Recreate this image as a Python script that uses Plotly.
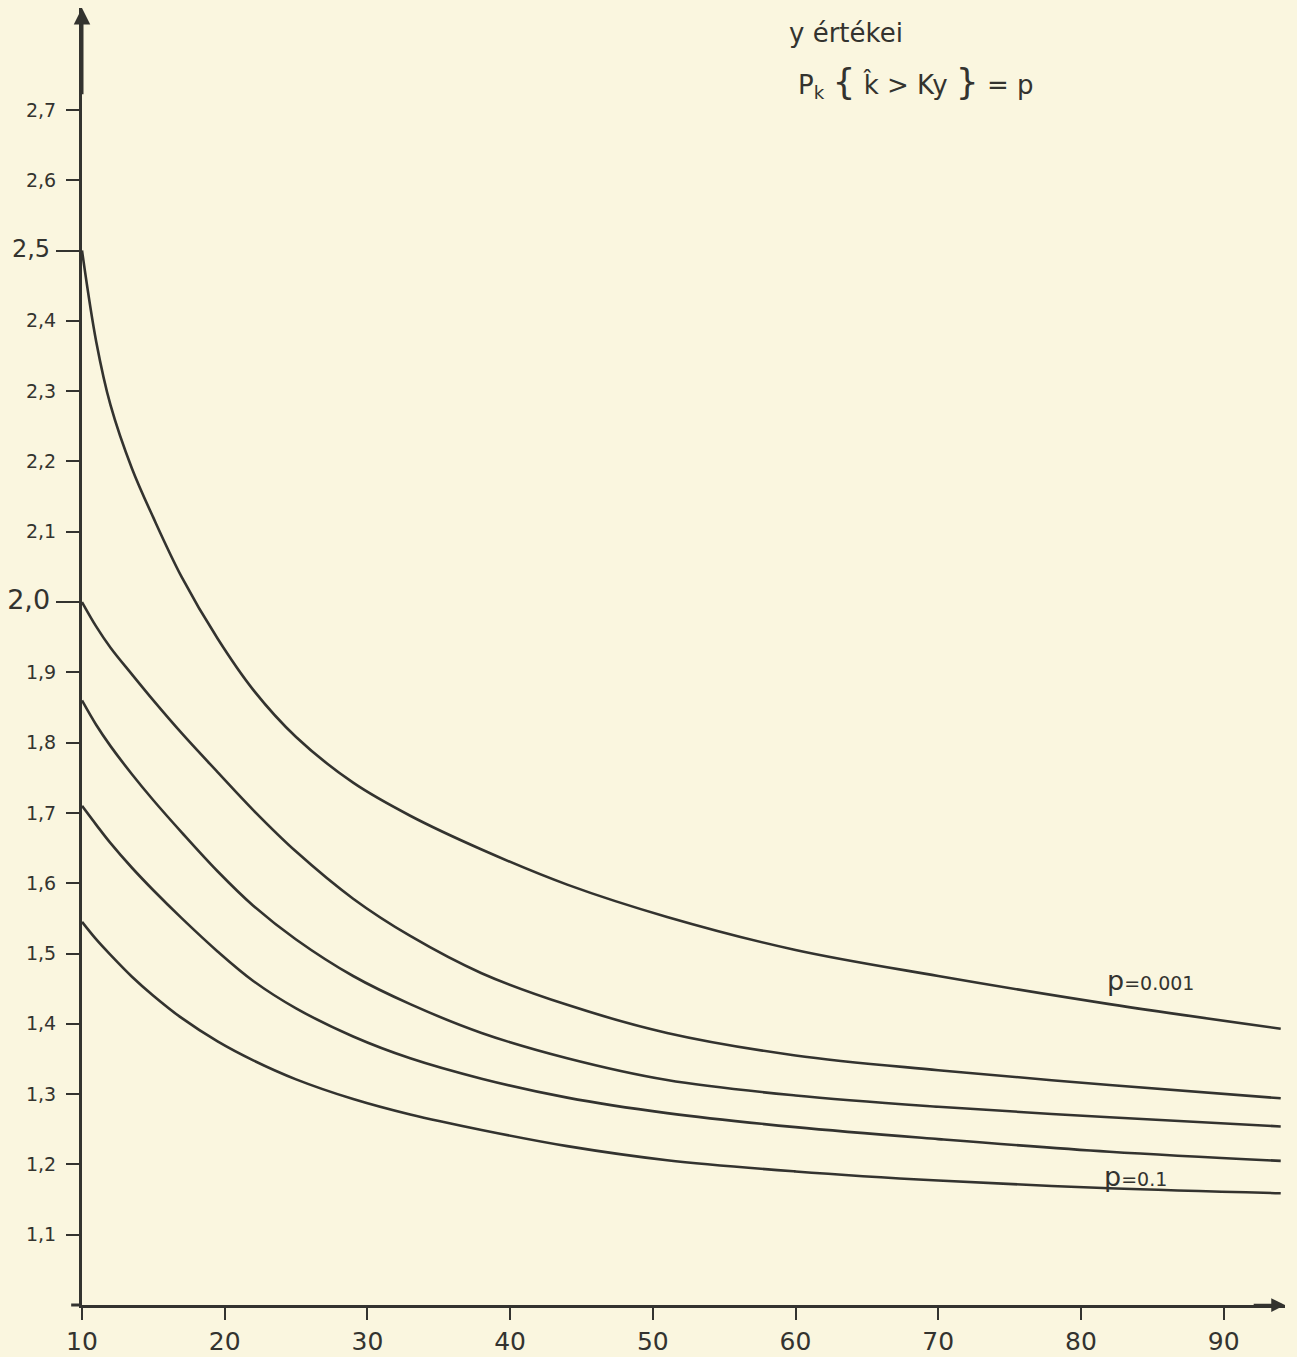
import plotly.graph_objects as go

# ---- data ----
x_vals = [10, 11, 12, 13.5, 15, 17, 19.5, 22, 25, 29, 33, 38, 44, 51, 60, 70, 82, 94]
y_p0001 = [2.50, 2.37, 2.28, 2.19, 2.12, 2.035, 1.948, 1.875, 1.808, 1.743, 1.696, 1.648, 1.598, 1.552, 1.505, 1.468, 1.428, 1.393]
y_curve2 = [2.00, 1.965, 1.935, 1.897, 1.86, 1.813, 1.758, 1.704, 1.645, 1.578, 1.525, 1.472, 1.427, 1.387, 1.355, 1.334, 1.313, 1.294]
y_curve3 = [1.86, 1.825, 1.795, 1.755, 1.718, 1.672, 1.617, 1.568, 1.52, 1.468, 1.428, 1.387, 1.351, 1.32, 1.298, 1.282, 1.267, 1.254]
y_curve4 = [1.71, 1.683, 1.657, 1.622, 1.59, 1.55, 1.503, 1.461, 1.422, 1.382, 1.351, 1.322, 1.295, 1.273, 1.253, 1.236, 1.218, 1.205]
y_p01 = [1.545, 1.52, 1.498, 1.467, 1.44, 1.408, 1.375, 1.348, 1.321, 1.293, 1.271, 1.249, 1.226, 1.206, 1.19, 1.177, 1.166, 1.159]

x_ticks = [10, 20, 30, 40, 50, 60, 70, 80, 90]
x_ticktext = ["10", "20", "30", "40", "50", "60", "70", "80", "90"]
y_ticks = [1.1, 1.2, 1.3, 1.4, 1.5, 1.6, 1.7, 1.8, 1.9, 2.0, 2.1, 2.2, 2.3, 2.4, 2.5, 2.6, 2.7]
y_ticktext = ["1,1", "1,2", "1,3", "1,4", "1,5", "1,6", "1,7", "1,8", "1,9",
              "<span style='font-size:27px'>2,0</span>\u00a0", "2,1", "2,2", "2,3", "2,4",
              "<span style='font-size:24px'>2,5</span>\u00a0", "2,6", "2,7"]
long_ticks = [2.0, 2.5]

BG = "#faf6df"
INK = "#33332f"
FONT = "DejaVu Sans"

fig = go.Figure()
for ys in [y_p0001, y_curve2, y_curve3, y_curve4, y_p01]:
    fig.add_trace(go.Scatter(x=x_vals, y=ys, mode="lines",
                             line=dict(color=INK, width=2.6, shape="spline", smoothing=1.0),
                             showlegend=False, hoverinfo="skip"))
# invisible trace on overlay axis for the longer ticks
fig.add_trace(go.Scatter(x=[x_vals[0]], y=[y_p0001[0]], yaxis="y2", mode="markers",
                         marker=dict(opacity=0), showlegend=False, hoverinfo="skip"))

XR = [10, 94.3]
YR = [1.0, 2.845]

fig.update_layout(
    width=1297, height=1357,
    margin=dict(l=82, r=12, t=8, b=52),
    paper_bgcolor=BG, plot_bgcolor=BG,
    font=dict(family=FONT, color=INK),
    xaxis=dict(range=XR, tickvals=x_ticks, ticktext=x_ticktext, automargin=False,
               showgrid=False, zeroline=False, showline=True, linecolor=INK, linewidth=3,
               ticks="outside", ticklen=12, tickwidth=2, tickcolor=INK,
               tickfont=dict(size=25, family=FONT, color=INK), ticklabelstandoff=0),
    yaxis=dict(range=YR, tickvals=y_ticks, ticktext=y_ticktext, automargin=False,
               showgrid=False, zeroline=False, showline=True, linecolor=INK, linewidth=3,
               ticks="outside", ticklen=13, tickwidth=2, tickcolor=INK,
               tickfont=dict(size=19, family=FONT, color=INK), ticklabelstandoff=6),
    yaxis2=dict(range=YR, overlaying="y", side="left", tickvals=long_ticks, automargin=False,
                showticklabels=False, showgrid=False, zeroline=False, showline=False,
                ticks="outside", ticklen=25, tickwidth=2, tickcolor=INK),
    shapes=[dict(type="line", xref="paper", yref="paper", x0=-0.009, x1=0, y0=0, y1=0,
                 line=dict(color=INK, width=3))],
)

annotations = [
    # axis arrows
    dict(x=XR[0], y=YR[1], ax=XR[0], ay=2.72, xref="x", yref="y", axref="x", ayref="y",
         text="", showarrow=True, arrowhead=2, arrowsize=1.1, arrowwidth=3, arrowcolor=INK),
    dict(x=XR[1], y=YR[0], ax=92.0, ay=YR[0], xref="x", yref="y", axref="x", ayref="y",
         text="", showarrow=True, arrowhead=2, arrowsize=1.1, arrowwidth=2.5, arrowcolor=INK),
    # titles
    dict(x=59.4, y=2.81, xref="x", yref="y", xanchor="left", yanchor="middle",
         text="y értékei", showarrow=False, font=dict(size=26, family=FONT, color=INK)),
    dict(x=60.0, y=2.74, xref="x", yref="y", xanchor="left", yanchor="middle",
         text="P<sub>k</sub> <span style='font-size:36px'>{</span> k\u0302 > Ky <span style='font-size:36px'>}</span> = p",
         showarrow=False, font=dict(size=26, family=FONT, color=INK)),
    # curve labels
    dict(x=81.7, y=1.462, xref="x", yref="y", xanchor="left", yanchor="middle",
         text="p<span style='font-size:19px'>=0.001</span>", showarrow=False,
         font=dict(size=27, family=FONT, color=INK)),
    dict(x=81.5, y=1.183, xref="x", yref="y", xanchor="left", yanchor="middle",
         text="p<span style='font-size:19px'>=0.1</span>", showarrow=False,
         font=dict(size=27, family=FONT, color=INK)),
]
fig.update_layout(annotations=annotations)

fig.write_html("out.html", config={"displayModeBar": False},
               post_script="document.body.style.margin='0';")
